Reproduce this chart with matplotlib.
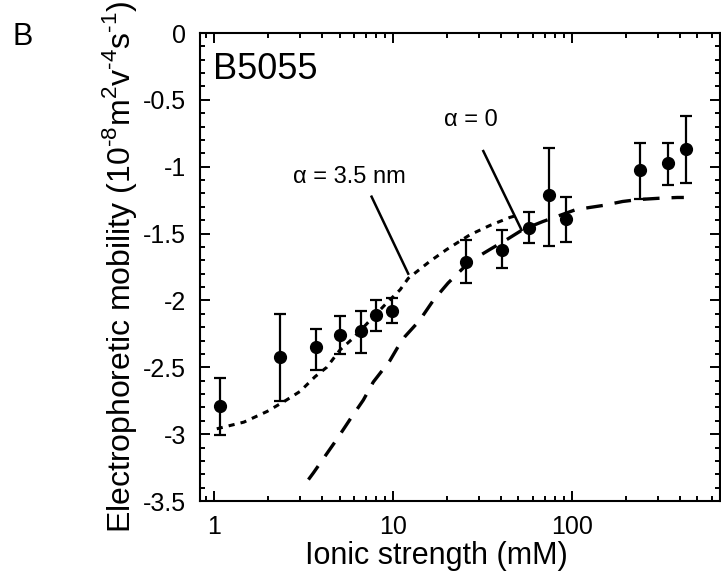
import numpy as np
import matplotlib
matplotlib.use("Agg")
import matplotlib.pyplot as plt
from matplotlib.ticker import LogLocator, MultipleLocator, FixedLocator, NullFormatter, FuncFormatter

plt.rcParams['font.family'] = ['Liberation Sans', 'DejaVu Sans']
plt.rcParams['mathtext.fontset'] = 'custom'
plt.rcParams['mathtext.rm'] = 'Liberation Sans'

# measured points (ionic strength in mM, mobility)
ionic = [1.07, 2.33, 3.69, 5.03, 6.59, 7.99, 9.85, 25.6, 40.4, 57.5, 74.1, 92.2, 238, 343, 433]
mobility = [-2.79, -2.42, -2.35, -2.26, -2.23, -2.11, -2.08, -1.715, -1.62, -1.46, -1.21, -1.39, -1.025, -0.97, -0.865]
err_top = [-2.58, -2.10, -2.21, -2.12, -2.08, -2.00, -1.98, -1.55, -1.47, -1.34, -0.86, -1.23, -0.82, -0.82, -0.62]
err_bot = [-3.01, -2.75, -2.52, -2.40, -2.39, -2.23, -2.17, -1.87, -1.76, -1.57, -1.59, -1.56, -1.24, -1.14, -1.12]

# model curve, alpha = 3.5 nm (dotted)
fit35_x = [1.03, 1.46, 1.97, 2.49, 3.01, 3.65, 4.24, 5.03, 5.98, 7.39, 9.16, 10.9, 12.1, 15.9, 19.8, 26.7, 34.5, 44.6, 50]
fit35_y = [-2.96, -2.91, -2.83, -2.75, -2.68, -2.57, -2.50, -2.37, -2.28, -2.15, -2.02, -1.92, -1.835, -1.71, -1.62, -1.51, -1.44, -1.38, -1.36]

# model curve, alpha = 0 (dashed)
fit0_x = [3.35, 3.57, 4.82, 5.72, 6.79, 7.72, 9.56, 10.9, 11.6, 14.0, 16.7, 20.2, 26.7, 34.5, 43.6, 52.9, 68.4, 105, 148, 191, 236, 305, 386, 420]
fit0_y = [-3.34, -3.29, -3.04, -2.89, -2.745, -2.61, -2.45, -2.32, -2.27, -2.15, -2.00, -1.87, -1.71, -1.62, -1.54, -1.47, -1.41, -1.32, -1.29, -1.26, -1.245, -1.236, -1.23, -1.23]

fig = plt.figure(figsize=(7.21, 5.76), dpi=100)
ax = fig.add_axes([0.2774, 0.1302, 0.7206, 0.8125])

ax.plot(fit35_x, fit35_y, color="black", lw=2.2, dashes=(2.0, 2.0))
ax.plot(fit0_x, fit0_y, color="black", lw=2.4, dashes=(5.0, 3.6))

yerr = [np.array(mobility) - np.array(err_bot), np.array(err_top) - np.array(mobility)]
ax.errorbar(ionic, mobility, yerr=yerr, fmt="o", color="black", ms=8.5,
            elinewidth=1.6, capsize=4.5, capthick=1.6)

# annotation pointers
ax.plot([7.55, 12.1], [-1.224, -1.80], color="black", lw=1.8)
ax.plot([31.8, 52.0], [-0.883, -1.473], color="black", lw=1.8)
ax.text(5.71, -1.077, "\u03b1 = 3.5 nm", fontsize=17, ha="center", va="center")
ax.text(27.1, -0.65, "\u03b1 = 0", fontsize=17, ha="center", va="center")
ax.text(0.025, 0.921, "B5055", transform=ax.transAxes, fontsize=26, ha="left", va="center")

ax.set_xscale("log")
ax.set_xlim(0.83, 665)
ax.set_ylim(-3.5, 0)
ax.xaxis.set_major_locator(FixedLocator([1, 10, 100]))
ax.xaxis.set_major_formatter(FuncFormatter(lambda v, p: "{:g}".format(v)))
ax.xaxis.set_minor_locator(LogLocator(base=10, subs=np.arange(2, 10)))
ax.xaxis.set_minor_formatter(NullFormatter())
ax.yaxis.set_major_locator(MultipleLocator(0.5))
ax.yaxis.set_minor_locator(MultipleLocator(0.1))
ax.yaxis.set_major_formatter(FuncFormatter(lambda v, p: "0" if abs(v) < 1e-9 else "{:g}".format(v)))

ax.tick_params(which="both", direction="in", top=True, right=True, width=1.4, labelsize=18)
ax.tick_params(which="major", length=7)
ax.tick_params(which="minor", length=3.5)
ax.tick_params(axis="y", pad=10)
ax.tick_params(axis="x", pad=10)
for sp in ax.spines.values():
    sp.set_linewidth(1.5)

ax.set_xlabel("Ionic strength (mM)", fontsize=22)
ax.set_ylabel(r"Electrophoretic mobility (10$^{\text{-}8}$m$^{2}$v$^{\text{-}4}$s$^{\text{-}1}$)", fontsize=23)
ax.xaxis.set_label_coords(0.455, -0.085)
ax.yaxis.set_label_coords(-0.118, 0.5)

fig.text(0.031, 0.935, "B", fontsize=22, ha="center", va="center")

plt.savefig("out.png", dpi=100)
